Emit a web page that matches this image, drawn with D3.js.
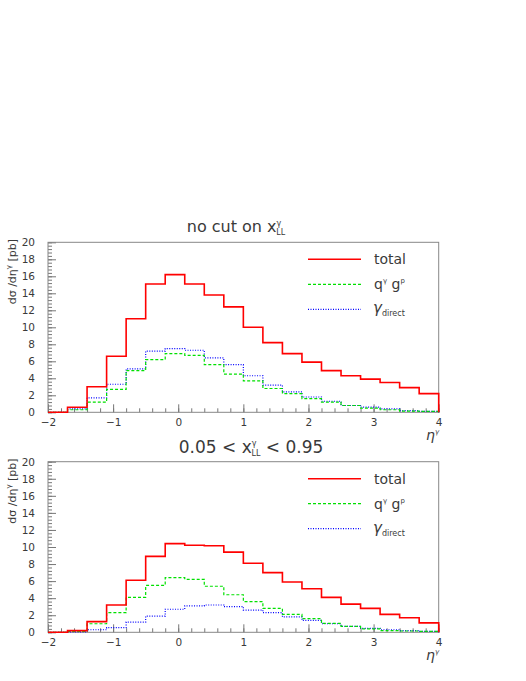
<!DOCTYPE html>
<html>
<head>
<meta charset="utf-8">
<script src="https://cdn.jsdelivr.net/npm/d3@7"></script>
<style>
  body { margin: 0; background: #fff; }
  text { font-family: "DejaVu Sans", "Liberation Sans", sans-serif; fill: #3a3a3a; }
</style>
</head>
<body>
<div class="chart"></div>
<script>
// bin edges of eta^gamma, width 0.3 from -2 to 4
const edges = [-2, -1.7, -1.4, -1.1, -0.8, -0.5, -0.2, 0.1, 0.4, 0.7, 1.0,
               1.3, 1.6, 1.9, 2.2, 2.5, 2.8, 3.1, 3.4, 3.7, 4.0]

// panel 1 : no cut on x_LL
const totalA  = [0, 0.6, 3.0, 6.6, 11.0, 15.1, 16.2, 15.1, 13.8, 12.4, 10.0,
                 8.2, 6.9, 5.9, 4.9, 4.3, 3.9, 3.5, 2.9, 2.2]
const qgA     = [0, 0.3, 1.2, 2.7, 4.9, 6.2, 6.9, 6.7, 5.6, 4.5, 3.7,
                 2.8, 2.2, 1.6, 1.2, 0.8, 0.5, 0.3, 0.15, 0.1]
const directA = [0, 0.4, 1.7, 3.3, 5.1, 7.2, 7.5, 7.3, 6.4, 5.6, 4.3,
                 3.2, 2.4, 1.8, 1.3, 0.8, 0.6, 0.4, 0.2, 0.1]

// panel 2 : 0.05 < x_LL < 0.95
const totalB  = [0, 0.2, 1.25, 3.2, 6.1, 8.9, 10.4, 10.2, 10.15, 9.4, 8.1,
                 7.0, 5.9, 5.1, 4.1, 3.3, 2.8, 2.1, 1.7, 1.1]
const qgB     = [0, 0.1, 1.0, 2.3, 4.1, 5.5, 6.4, 6.2, 5.4, 4.4, 3.6,
                 2.8, 2.1, 1.6, 1.05, 0.7, 0.4, 0.2, 0.15, 0.1]
const directB = [0, 0.05, 0.3, 0.55, 1.2, 1.9, 2.7, 3.1, 3.2, 3.0, 2.6,
                 2.3, 1.8, 1.4, 1.0, 0.7, 0.45, 0.3, 0.2, 0.1]

const xTicks = [-2, -1, 0, 1, 2, 3, 4]
const yTicks = [0, 2, 4, 6, 8, 10, 12, 14, 16, 18, 20]

const series = [
  {key: 'total',  color: '#ff0000', width: 1.6, dash: null},
  {key: 'qg',     color: '#00e000', width: 1.2, dash: '3,2'},
  {key: 'direct', color: '#0000ff', width: 1.2, dash: '1,1.5'}
]

const panels = [
  {title: 'no cut', data: {total: totalA, qg: qgA, direct: directA}, top: 242.3, bottom: 412.3},
  {title: 'cut',    data: {total: totalB, qg: qgB, direct: directB}, top: 461.7, bottom: 632.3}
]

const W = 526, H = 681
const left = 48, right = 438.7

const svg = d3.select('.chart')
  .append('svg')
    .attr('width', W)
    .attr('height', H)

const xScale = d3.scaleLinear().domain([-2, 4]).range([left, right])

panels.forEach(p => {
  const yScale = d3.scaleLinear().domain([0, 20]).range([p.bottom, p.top])
  const g = svg.append('g')

  // minor + major ticks, pointing inward
  const xMinor = d3.range(-2, 4.001, 0.2).map(v => +v.toFixed(1))
  g.append('g')
      .attr('transform', `translate(0, ${p.bottom})`)
    .call(d3.axisBottom(xScale).tickValues(xMinor).tickSize(-4).tickFormat(''))
    .call(a => a.select('.domain').remove())
    .call(a => a.selectAll('line').attr('stroke', '#777'))
  g.append('g')
      .attr('transform', `translate(0, ${p.bottom})`)
    .call(d3.axisBottom(xScale).tickValues(xTicks).tickSize(-8).tickPadding(6)
      .tickFormat(d => d < 0 ? '\u2212' + (-d) : d))
    .call(a => a.select('.domain').remove())
    .call(a => a.selectAll('line').attr('stroke', '#777'))
    .call(a => a.selectAll('text').style('font-size', '10.5px').attr('fill', '#3a3a3a'))

  const yMinor = d3.range(0, 20.001, 0.4).map(v => +v.toFixed(1))
  g.append('g')
      .attr('transform', `translate(${left}, 0)`)
    .call(d3.axisLeft(yScale).tickValues(yMinor).tickSize(-4).tickFormat(''))
    .call(a => a.select('.domain').remove())
    .call(a => a.selectAll('line').attr('stroke', '#777'))
  g.append('g')
      .attr('transform', `translate(${left}, 0)`)
    .call(d3.axisLeft(yScale).tickValues(yTicks).tickSize(-8).tickPadding(13))
    .call(a => a.select('.domain').remove())
    .call(a => a.selectAll('line').attr('stroke', '#777'))
    .call(a => a.selectAll('text').style('font-size', '10.5px').attr('fill', '#3a3a3a'))

  // frame
  g.append('rect')
    .attr('x', left).attr('y', p.top)
    .attr('width', right - left).attr('height', p.bottom - p.top)
    .attr('fill', 'none').attr('stroke', '#888').attr('stroke-width', 1)

  // histograms
  const line = d3.line()
    .x(d => xScale(d[0]))
    .y(d => yScale(d[1]))
    .curve(d3.curveStepAfter)

  series.slice().reverse().forEach(s => {
    const vals = p.data[s.key]
    const pts = vals.map((v, i) => [edges[i], v])
    pts.push([4, vals[vals.length - 1]])
    pts.push([4, 0])
    g.append('path')
      .attr('d', line(pts))
      .attr('fill', 'none')
      .attr('stroke', s.color)
      .attr('stroke-width', s.width)
      .attr('stroke-dasharray', s.dash)
  })

  // legend
  const legY = [p.top + 17, p.top + 42, p.top + 67]
  series.forEach((s, i) => {
    g.append('line')
      .attr('x1', 308).attr('x2', 361)
      .attr('y1', legY[i]).attr('y2', legY[i])
      .attr('stroke', s.color)
      .attr('stroke-width', s.key === 'total' ? 1.4 : 1.2)
      .attr('stroke-dasharray', s.dash)
  })
  const t0 = g.append('text').attr('x', 374).attr('y', legY[0] + 5).style('font-size', '14px')
  t0.text('total')
  const t1 = g.append('text').attr('x', 374).attr('y', legY[1] + 5).style('font-size', '14px')
  t1.append('tspan').text('q')
  t1.append('tspan').attr('dy', -6).style('font-size', '7px').text('\u03b3')
  t1.append('tspan').attr('dy', 6).text(' g')
  t1.append('tspan').attr('dy', -6).style('font-size', '7px').text('p')
  const t2 = g.append('text').attr('x', 373).attr('y', legY[2] + 4).style('font-size', '15px')
  t2.append('tspan').style('font-style', 'italic').text('\u03b3')
  t2.append('tspan').attr('dy', 3).style('font-size', '8px').text('direct')

  // axis titles
  const yl = g.append('text')
    .attr('transform', `translate(16, ${p.top + 62}) rotate(-90)`)
    .attr('text-anchor', 'start')
    .style('font-size', '11px')
  yl.append('tspan').text('d\u03c3 /d\u03b7')
  yl.append('tspan').attr('dy', -5).style('font-size', '7px').text('\u03b3')
  yl.append('tspan').attr('dy', 5).text(' [pb]')

  const xl = g.append('text')
    .attr('x', 426).attr('y', p.bottom + 28)
    .style('font-size', '14px').style('font-style', 'italic')
  xl.append('tspan').text('\u03b7')
  xl.append('tspan').attr('dy', -6).style('font-size', '7px').text('\u03b3')

  // panel titles
  if (p.title === 'no cut') {
    const tt = g.append('text').attr('x', 236).attr('y', p.top - 10)
      .attr('text-anchor', 'middle').style('font-size', '16px')
    tt.append('tspan').text('no cut on x')
    tt.append('tspan').attr('dy', -6).style('font-size', '8px').text('\u03b3')
    tt.append('tspan').attr('dx', -5).attr('dy', 9).style('font-size', '8px').text('LL')
  } else {
    const tt = g.append('text').attr('x', 251).attr('y', p.top - 9)
      .attr('text-anchor', 'middle').style('font-size', '17px')
    tt.append('tspan').text('0.05 < x')
    tt.append('tspan').attr('dy', -7).style('font-size', '8px').text('\u03b3')
    tt.append('tspan').attr('dx', -5).attr('dy', 10).style('font-size', '8px').text('LL')
    tt.append('tspan').attr('dy', -3).text(' < 0.95')
  }
})
</script>
</body>
</html>
